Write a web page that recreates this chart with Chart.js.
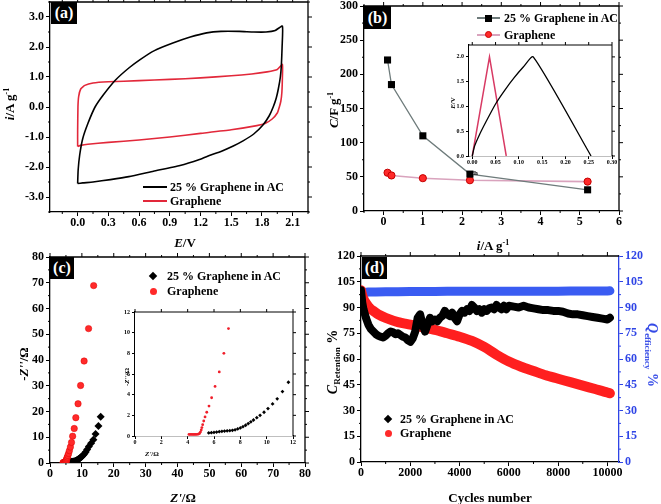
<!DOCTYPE html>
<html><head><meta charset="utf-8">
<script src="https://cdn.jsdelivr.net/npm/chart.js@4.4.1/dist/chart.umd.min.js"></script>
<style>
html,body{margin:0;padding:0;background:#fff}
#root{position:relative;width:661px;height:504px;overflow:hidden;background:#fff}
canvas{position:absolute}
.lbl{position:absolute;font-family:"Liberation Serif","Times New Roman",serif;font-weight:bold;color:#000;white-space:nowrap;line-height:1}
.c{transform:translate(-50%,-50%)}
.r{transform:translate(-50%,-50%) rotate(-90deg)}
.r2{transform:translate(-50%,-50%) rotate(90deg)}
.lg{position:absolute;font-family:"Liberation Serif","Times New Roman",serif;font-weight:bold;font-size:12px;color:#000;white-space:nowrap;line-height:14px;transform:translateY(-50%)}
.sup{font-size:8px;position:relative;top:-5px}
.sub{font-size:9px;position:relative;top:3px}
.pl{position:absolute;background:#000;color:#fff;font-family:"Liberation Serif",serif;font-weight:bold;font-size:16px;line-height:1;display:flex;align-items:center;justify-content:center}
.sw{position:absolute}
</style></head>
<body><div id="root">
<canvas id="ca"></canvas>
<canvas id="cb"></canvas>
<canvas id="cc"></canvas>
<canvas id="cd"></canvas>
<canvas id="cbi"></canvas>
<canvas id="cci"></canvas>

<!-- panel labels -->
<div class="pl" style="left:51px;top:2px;width:26px;height:22px">(a)</div>
<div class="pl" style="left:364px;top:6px;width:27px;height:23px">(b)</div>
<div class="pl" style="left:50px;top:257px;width:24px;height:22px">(c)</div>
<div class="pl" style="left:362px;top:257px;width:25px;height:22px">(d)</div>

<!-- axis titles -->
<div class="lbl c" style="left:185px;top:242px;font-size:13px"><i>E</i>/V</div>
<div class="lbl r" style="left:9px;top:104px;font-size:13px"><i>i</i>/A g<span class="sup">-1</span></div>
<div class="lbl c" style="left:493px;top:245px;font-size:13px"><i>i</i>/A g<span class="sup">-1</span></div>
<div class="lbl r" style="left:333px;top:110px;font-size:13px"><i>C</i>/F g<span class="sup">-1</span></div>
<div class="lbl c" style="left:183px;top:497px;font-size:13px"><i>Z'</i>/Ω</div>
<div class="lbl r" style="left:23px;top:364px;font-size:13px">-<i>Z''</i>/Ω</div>
<div class="lbl c" style="left:490px;top:497px;font-size:13px">Cycles number</div>
<div class="lbl r" style="left:333px;top:362px;font-size:14px"><i>C</i><span class="sub">Retention</span> %</div>
<div class="lbl r2" style="left:652px;top:355px;font-size:14px;color:#2f45e6"><i>Q</i><span class="sub">efficiency</span> %</div>
<div class="lbl r" style="left:453px;top:103px;font-size:7px"><i>E</i>/V</div>
<div class="lbl c" style="left:474px;top:173px;font-size:7px"><i>t</i>/h</div>
<div class="lbl r" style="left:127px;top:377px;font-size:7px">-<i>Z''</i>/Ω</div>
<div class="lbl c" style="left:152px;top:454px;font-size:7px"><i>Z'</i>/Ω</div>

<!-- legend (a) -->
<div class="sw" style="left:143px;top:186px;width:24px;height:2px;background:#000"></div>
<div class="lg" style="left:170px;top:187px">25 % Graphene in AC</div>
<div class="sw" style="left:143px;top:200px;width:24px;height:2px;background:#e2283a"></div>
<div class="lg" style="left:170px;top:201px">Graphene</div>
<!-- legend (b) -->
<div class="sw" style="left:477px;top:17px;width:23px;height:1.5px;background:#6e7b7b"></div>
<div class="sw" style="left:485px;top:15px;width:7px;height:7px;background:#000"></div>
<div class="lg" style="left:504px;top:18px">25 % Graphene in AC</div>
<div class="sw" style="left:477px;top:34px;width:23px;height:1.5px;background:#d9a3bd"></div>
<div class="sw" style="left:485px;top:31px;width:7px;height:7px;background:#ff2a2a;border-radius:50%;box-sizing:border-box;border:1px solid #c00"></div>
<div class="lg" style="left:504px;top:35px">Graphene</div>
<!-- legend (c) -->
<div class="sw" style="left:150px;top:273px;width:6px;height:6px;background:#000;transform:rotate(45deg)"></div>
<div class="lg" style="left:167px;top:276px">25 % Graphene in AC</div>
<div class="sw" style="left:150px;top:288px;width:7px;height:7px;background:#ff2a2a;border-radius:50%"></div>
<div class="lg" style="left:167px;top:291px">Graphene</div>
<!-- legend (d) -->
<div class="sw" style="left:385px;top:416px;width:6px;height:6px;background:#000;transform:rotate(45deg)"></div>
<div class="lg" style="left:400px;top:419px">25 % Graphene in AC</div>
<div class="sw" style="left:385px;top:430px;width:7px;height:7px;background:#ff2a2a;border-radius:50%"></div>
<div class="lg" style="left:400px;top:433px">Graphene</div>
</div>

<script>
// ===================== DATA =====================
// (a) cyclic voltammetry
const cvE_AC = [0.00,0.005,0.02,0.05,0.10,0.17,0.25,0.37,0.50,0.61,0.75,0.93,1.10,1.26,1.40,1.58,1.72,1.84,1.93,2.00,
                1.997,1.99,1.98,1.96,1.94,1.91,1.87,1.81,1.72,1.62,1.52,1.40,1.30,1.19,1.00,0.74,0.50,0.32,0.15,0.05,0.00];
const cvI_AC = [-2.55,-2.10,-1.60,-1.05,-0.55,0.00,0.40,0.90,1.30,1.58,1.88,2.13,2.33,2.47,2.52,2.52,2.50,2.50,2.55,2.70,
                2.00,1.40,1.00,0.60,0.30,0.00,-0.30,-0.60,-0.90,-1.12,-1.30,-1.48,-1.60,-1.75,-1.95,-2.14,-2.32,-2.42,-2.50,-2.53,-2.55];
const cvE_G = [0.00,0.00,0.003,0.01,0.03,0.07,0.15,0.30,0.60,0.90,1.20,1.50,1.70,1.85,1.95,2.00,
               2.00,1.995,1.985,1.97,1.95,1.90,1.83,1.75,1.50,1.20,0.90,0.60,0.30,0.10,0.03,0.00];
const cvI_G = [-1.32,-0.80,0.00,0.35,0.60,0.72,0.80,0.84,0.88,0.92,0.97,1.04,1.10,1.17,1.25,1.42,
               1.00,0.50,0.20,0.00,-0.20,-0.40,-0.55,-0.62,-0.76,-0.88,-1.00,-1.10,-1.18,-1.24,-1.28,-1.32];
const cvTicksE = ['0.0','0.3','0.6','0.9','1.2','1.5','1.8','2.1'];
const cvTicksI = ['-3.0','-2.0','-1.0','0.0','1.0','2.0','3.0'];

// (b) rate capability
const rateCurrent = [0.1,0.2,1,2.2,5.2];
const rateCap_AC = [221,185,110,54,31];
const rateCap_G  = [56,52,48,45,43];
const rateTicksX = ['0','1','2','3','4','5','6'];
const rateTicksY = ['0','50','100','150','200','250','300'];
// (b) inset charge/discharge
const gcdT_AC = [0,0.005,0.015,0.03,0.05,0.07,0.09,0.11,0.131,0.255];
const gcdE_AC = [0,0.20,0.42,0.70,1.05,1.33,1.58,1.80,2.00,0];
const gcdT_G = [0,0.037,0.073];
const gcdE_G = [0,2.0,0];
const gcdTicksT = ['0.00','0.05','0.10','0.15','0.20','0.25','0.30'];
const gcdTicksE = ['0.0','0.5','1.0','1.5','2.0'];

// (c) Nyquist
const eisRe_AC = [5.60,5.80,6.00,6.20,6.40,6.60,6.80,7.00,7.20,7.40,7.60,7.80,8.00,8.20,8.40,8.60,8.80,9.00,9.25,9.50,9.80,10.10,10.45,10.80,11.20,11.65,12.20,12.90,13.60,14.30,15.20,15.90];
const eisIm_AC = [0.30,0.32,0.35,0.38,0.42,0.45,0.48,0.50,0.52,0.55,0.60,0.68,0.78,0.90,1.04,1.20,1.37,1.55,1.77,2.00,2.30,2.65,3.10,3.60,4.30,5.20,6.40,7.70,9.00,11.30,14.40,18.00];
const eisRe_G = [4.10,4.20,4.30,4.40,4.50,4.60,4.70,4.80,4.90,4.97,5.03,5.08,5.14,5.22,5.32,5.45,5.62,5.82,6.08,6.40,6.75,7.10,7.60,8.10,8.80,9.60,10.70,12.10,13.70];
const eisIm_G = [0.15,0.15,0.15,0.15,0.15,0.15,0.16,0.18,0.24,0.38,0.58,0.82,1.10,1.45,1.85,2.30,2.90,3.70,4.80,6.20,8.00,10.40,13.40,17.60,23.00,30.10,39.60,52.20,68.90];
const eisTicks = ['0','10','20','30','40','50','60','70','80'];
const eisInsetTicks = ['0','2','4','6','8','10','12'];

// (d) cycling
const cyc_AC = [0,50,100,200,300,400,500,600,700,800,900,1000,1100,1200,1300,1400,1500,1600,1700,1800,1900,2000,2100,2200,2300,2400,2500,2600,2700,2800,2900,3000,3100,3200,3300,3400,3500,3600,3700,3800,3900,4000,4100,4200,4300,4400,4500,4600,4700,4800,4900,5000,5100,5200,5300,5400,5500,5600,5700,5800,5900,6000,6200,6400,6600,6800,7000,7200,7400,7600,7800,8000,8200,8400,8600,8800,9000,9200,9400,9600,9800,10000,10100];
const ret_AC = [100,93,89,84,80,77.5,76,74.5,73.5,73,72.5,73.5,75,76,75.5,74.5,75,74,73,72.5,71,70,72,76,84,86,80,76,80,84,82,83,82,84,85,88,86,85,87,84,82,86,88,87,89,88,91.5,90,88,89,87,89,88,89.5,90,89,91.5,90,89,91,89,91,90.5,90,91,90,89.5,89,88.5,88.5,88,88,87.5,86.5,86,86,85.5,85,84.5,84,83.5,83,84];
const cyc_G = [0,50,100,200,300,400,500,700,1000,1500,2000,2500,3000,3500,4000,4500,5000,5500,6000,6500,7000,7500,8000,8500,9000,9500,10000,10100];
const ret_G = [100,97,95,92.5,90.5,89,88,86,84,81.5,80,78.5,77,75,73,70.5,67,62.5,58.5,55.5,53,50.5,48.5,46.5,44.5,42.5,40.5,40];
const cyc_Eff = [0,100,300,600,1000,1500,2000,2500,3000,3500,4000,4500,5000,5500,6000,6500,7000,7500,8000,8500,9000,9500,10000,10100];
const eff = [98.0,98.6,99.0,99.1,99.2,99.2,99.3,99.3,99.3,99.4,99.4,99.4,99.5,99.5,99.5,99.5,99.5,99.5,99.5,99.6,99.6,99.6,99.6,99.7];
const cycTicksX = ['0','2000','4000','6000','8000','10000'];
const cycTicksY = ['0','15','30','45','60','75','90','105','120'];

// ===================== HELPERS =====================
const FONT = '"Liberation Serif","Times New Roman",serif';
Chart.defaults.font.family = FONT;
const zip = (xs, ys) => xs.map((x, i) => ({x: x, y: ys[i]}));

function placeCanvas(id, r, p) {
  const c = document.getElementById(id);
  const w = r.r - r.l + p.l + p.r, h = r.b - r.t + p.t + p.b;
  c.width = w; c.height = h; c.style.width = w + 'px'; c.style.height = h + 'px';
  c.style.left = (r.l - p.l) + 'px'; c.style.top = (r.t - p.t) + 'px';
}
function minorOf(vals, min, max) {
  const s = (vals[1] - vals[0]) / 2, out = [];
  out.push(vals[0] - s);
  vals.forEach(v => out.push(v + s));
  return out.filter(v => v >= min - 1e-9 && v <= max + 1e-9);
}
function hAxis(min, max, labs, fs, h, tl, color) {
  const vals = labs.map(Number); color = color || '#000';
  return {type: 'linear', position: 'bottom', min: min, max: max,
    afterBuildTicks: s => { s.ticks = vals.map(v => ({value: v})); },
    afterFit: s => { s.height = h; },
    ticks: {callback: (v, i) => labs[i], font: {family: FONT, size: fs, weight: 'bold'}, color: color, padding: 0, maxRotation: 0, autoSkip: false},
    grid: {display: true, drawOnChartArea: false, drawTicks: true, tickLength: tl, color: color, lineWidth: 1},
    border: {display: true, color: color, width: 1.3}};
}
function vAxis(min, max, labs, fs, w, tl, pos, color) {
  const vals = labs.map(Number); color = color || '#000';
  return {type: 'linear', position: pos || 'left', min: min, max: max,
    afterBuildTicks: s => { s.ticks = vals.map(v => ({value: v})); },
    afterFit: s => { s.width = w; },
    ticks: {callback: (v, i) => labs[i], font: {family: FONT, size: fs, weight: 'bold'}, color: color, padding: 2, autoSkip: false},
    grid: {display: true, drawOnChartArea: false, drawTicks: true, tickLength: tl, color: color, lineWidth: 1},
    border: {display: true, color: color, width: 1.3}};
}
const framePlugin = {id: 'frame',
  beforeDatasetsDraw(chart, args, o) {
    if (!o || !o.bg) return;
    const a = chart.chartArea, ctx = chart.ctx;
    ctx.save(); ctx.fillStyle = '#fff'; ctx.fillRect(a.left, a.top, a.right - a.left, a.bottom - a.top); ctx.restore();
  },
  afterDraw(chart, args, o) {
    if (!o || !o.on) return;
    const ctx = chart.ctx, a = chart.chartArea, xs = chart.scales.x, ys = chart.scales.y;
    const M = o.major, m = o.minor;
    ctx.save();
    ctx.strokeStyle = '#000'; ctx.lineWidth = o.lw;
    ctx.beginPath(); ctx.moveTo(a.left, a.top); ctx.lineTo(a.right, a.top);
    if (!o.dual) { ctx.moveTo(a.right, a.top); ctx.lineTo(a.right, a.bottom); }
    ctx.stroke();
    ctx.lineWidth = 1; ctx.beginPath();
    xs.ticks.forEach(t => { const p = xs.getPixelForValue(t.value); ctx.moveTo(p, a.top); ctx.lineTo(p, a.top - M); });
    (o.minX || []).forEach(v => { const p = xs.getPixelForValue(v); ctx.moveTo(p, a.bottom); ctx.lineTo(p, a.bottom + m); ctx.moveTo(p, a.top); ctx.lineTo(p, a.top - m); });
    (o.minY || []).forEach(v => { const p = ys.getPixelForValue(v); ctx.moveTo(a.left, p); ctx.lineTo(a.left - m, p); });
    if (!o.dual) {
      ys.ticks.forEach(t => { const p = ys.getPixelForValue(t.value); ctx.moveTo(a.right, p); ctx.lineTo(a.right + M, p); });
      (o.minY || []).forEach(v => { const p = ys.getPixelForValue(v); ctx.moveTo(a.right, p); ctx.lineTo(a.right + m, p); });
    }
    ctx.stroke();
    if (o.dual) {
      ctx.strokeStyle = o.dualColor; ctx.beginPath();
      (o.minY || []).forEach(v => { const p = chart.scales.y2.getPixelForValue(v); ctx.moveTo(a.right, p); ctx.lineTo(a.right + m, p); });
      ctx.stroke();
    }
    ctx.restore();
  }};
Chart.register(framePlugin);

function opts(scales, p, frame, dual) {
  return {responsive: false, animation: false, events: [],
    layout: {padding: {top: p.t, right: dual ? 0 : p.r, left: 0, bottom: 0}},
    plugins: {legend: {display: false}, tooltip: {enabled: false},
      frame: Object.assign({on: true, major: 4, minor: 2, lw: 1.3}, frame)},
    scales: scales};
}

// ===================== (a) =====================
const rA = {l: 50, t: 2, r: 308, b: 212}, pA = {l: 48, t: 10, r: 20, b: 24};
placeCanvas('ca', rA, pA);
new Chart('ca', {type: 'scatter', data: {datasets: [
  {label: '25 % Graphene in AC', data: zip(cvE_AC, cvI_AC), showLine: true, borderColor: '#000', borderWidth: 1.6, pointRadius: 0, tension: 0.15},
  {label: 'Graphene', data: zip(cvE_G, cvI_G), showLine: true, borderColor: '#e2283a', borderWidth: 1.6, pointRadius: 0, tension: 0.15}
]}, options: opts({x: hAxis(-0.27, 2.25, cvTicksE, 12, pA.b, 4), y: vAxis(-3.5, 3.5, cvTicksI, 12, pA.l, 4)}, pA,
  {minX: minorOf(cvTicksE.map(Number), -0.27, 2.25), minY: minorOf(cvTicksI.map(Number), -3.5, 3.5)})});

// ===================== (b) =====================
const rB = {l: 364, t: 6, r: 619, b: 211}, pB = {l: 40, t: 10, r: 20, b: 24};
placeCanvas('cb', rB, pB);
new Chart('cb', {type: 'scatter', data: {datasets: [
  {label: '25 % Graphene in AC', data: zip(rateCurrent, rateCap_AC), showLine: true, borderColor: '#6e7b7b', borderWidth: 1.3,
   pointStyle: 'rect', pointRadius: 5, pointBackgroundColor: '#000', pointBorderColor: '#000', pointBorderWidth: 0},
  {label: 'Graphene', data: zip(rateCurrent, rateCap_G), showLine: true, borderColor: '#d9a3bd', borderWidth: 1.6,
   pointStyle: 'circle', pointRadius: 3.6, pointBackgroundColor: '#ff2a2a', pointBorderColor: '#c40000', pointBorderWidth: 1}
]}, options: opts({x: hAxis(-0.5, 6, rateTicksX, 12, pB.b, 4), y: vAxis(0, 300, rateTicksY, 12, pB.l, 4)}, pB,
  {minX: minorOf(rateTicksX.map(Number), -0.5, 6), minY: minorOf(rateTicksY.map(Number), 0, 300)})});

// (b) inset
const rBi = {l: 469, t: 45, r: 612, b: 156}, pBi = {l: 22, t: 8, r: 12, b: 14};
placeCanvas('cbi', rBi, pBi);
new Chart('cbi', {type: 'scatter', data: {datasets: [
  {label: '25 % Graphene in AC', data: zip(gcdT_AC, gcdE_AC), showLine: true, borderColor: '#000', borderWidth: 1.3, pointRadius: 0, tension: 0.2},
  {label: 'Graphene', data: zip(gcdT_G, gcdE_G), showLine: true, borderColor: '#d83a64', borderWidth: 1.5, pointRadius: 0}
]}, options: opts({x: hAxis(-0.007, 0.30, gcdTicksT, 6, pBi.b, 3), y: vAxis(0, 2.24, gcdTicksE, 6, pBi.l, 3)}, pBi,
  {major: 3, minor: 0, lw: 1, bg: true})});

// ===================== (c) =====================
const rC = {l: 50, t: 257, r: 305, b: 463}, pC = {l: 46, t: 10, r: 20, b: 24};
placeCanvas('cc', rC, pC);
new Chart('cc', {type: 'scatter', data: {datasets: [
  {label: 'Graphene', data: zip(eisRe_G, eisIm_G), pointStyle: 'circle', pointRadius: 3.2, pointBackgroundColor: '#ff2a2a', pointBorderColor: '#e00000', pointBorderWidth: 0.5},
  {label: '25 % Graphene in AC', data: zip(eisRe_AC, eisIm_AC), pointStyle: 'rectRot', pointRadius: 4, pointBackgroundColor: '#000', pointBorderColor: '#000', pointBorderWidth: 0}
]}, options: opts({x: hAxis(0, 80, eisTicks, 12, pC.b, 4), y: vAxis(0, 80, eisTicks, 12, pC.l, 4)}, pC,
  {minX: minorOf(eisTicks.map(Number), 0, 80), minY: minorOf(eisTicks.map(Number), 0, 80)})});

// (c) inset
const rCi = {l: 135, t: 312, r: 293, b: 436}, pCi = {l: 16, t: 8, r: 10, b: 12};
placeCanvas('cci', rCi, pCi);
new Chart('cci', {type: 'scatter', data: {datasets: [
  {label: 'Graphene', data: zip(eisRe_G, eisIm_G), pointStyle: 'circle', pointRadius: 1.4, pointBackgroundColor: '#f01e2a', pointBorderWidth: 0},
  {label: '25 % Graphene in AC', data: zip(eisRe_AC, eisIm_AC), pointStyle: 'rectRot', pointRadius: 1.9, pointBackgroundColor: '#000', pointBorderWidth: 0}
]}, options: opts({x: hAxis(0, 12, eisInsetTicks, 6, pCi.b, 3), y: vAxis(0, 12, eisInsetTicks, 6, pCi.l, 3)}, pCi,
  {major: 3, minor: 0, lw: 1, bg: true})});

// ===================== (d) =====================
const rD = {l: 361, t: 256, r: 619, b: 462}, pD = {l: 40, t: 10, r: 42, b: 24};
placeCanvas('cd', rD, pD);
const blueAxis = '#2f45e6';
new Chart('cd', {type: 'scatter', data: {datasets: [
  {label: '25 % Graphene in AC', data: zip(cyc_AC, ret_AC), showLine: true, borderColor: '#000', borderWidth: 8, borderJoinStyle: 'round', borderCapStyle: 'round', pointRadius: 0, yAxisID: 'y'},
  {label: 'Graphene', data: zip(cyc_G, ret_G), showLine: true, borderColor: '#ff1f1f', borderWidth: 10, borderJoinStyle: 'round', borderCapStyle: 'round', pointRadius: 0, tension: 0.3, yAxisID: 'y'},
  {label: 'Efficiency', data: zip(cyc_Eff, eff), showLine: true, borderColor: '#3a5cf2', borderWidth: 9, borderJoinStyle: 'round', borderCapStyle: 'round', pointRadius: 0, yAxisID: 'y2'}
]}, options: opts({
  x: hAxis(0, 10470, cycTicksX, 12, pD.b, 4),
  y: vAxis(0, 120, cycTicksY, 12, pD.l, 4),
  y2: vAxis(0, 120, cycTicksY, 12, pD.r, 4, 'right', blueAxis)}, pD,
  {dual: true, dualColor: blueAxis, minX: minorOf(cycTicksX.map(Number), 0, 10470), minY: minorOf(cycTicksY.map(Number), 0, 120)}, true)});
</script>
</body></html>
